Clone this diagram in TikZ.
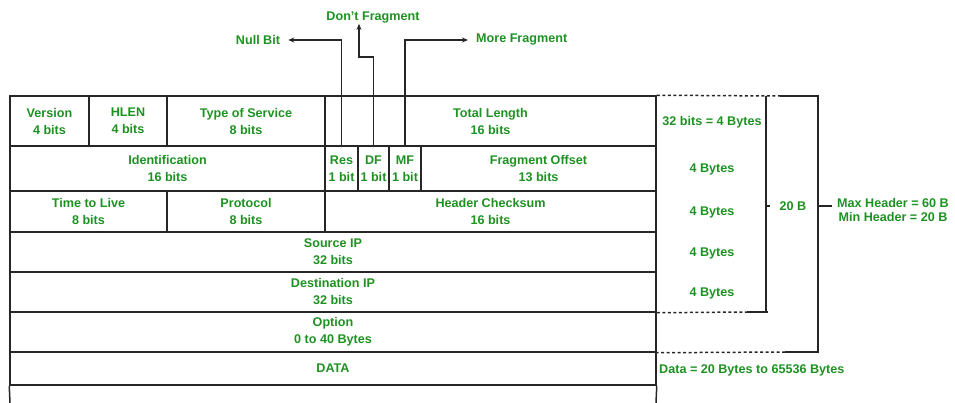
\documentclass[tikz,border=0pt]{standalone}
\usepackage{fontspec}
\setmainfont{Liberation Sans}
\usetikzlibrary{arrows.meta}
\definecolor{lbl}{RGB}{30,145,35}
\begin{document}
\begin{tikzpicture}[x=1pt,y=-1pt,
  every node/.style={font=\fontsize{12.6}{17}\selectfont\bfseries, text=lbl, align=center, inner sep=0pt},
  ln/.style={draw=black!85, line width=1.5pt},
  cell/.style 2 args={ln, rectangle, minimum width=#1, minimum height=#2},
  arr/.style={ln, line width=1.2pt, -{Stealth[length=6pt,width=5pt]}},
  dsh/.style={ln, dash pattern=on 3pt off 2.5pt}
]
\useasboundingbox (0,0) rectangle (955,403);
% row 1
\node[cell={79}{50}] (ver) at (49.5,121) {Version\\4 bits};
\node[cell={78}{50}] (hlen) at (128,121) {HLEN\\4 bits};
\node[cell={158}{50}] (tos) at (246,121) {Type of Service\\8 bits};
\node[cell={331}{50}] (tlen) at (490.5,121) {Total Length\\16 bits};
% row 2
\node[cell={315}{45}] (ident) at (167.5,168.5) {Identification\\16 bits};
\node[cell={33}{45}] (res) at (341.5,168.5) {Res\\1 bit};
\node[cell={31}{45}] (df) at (373.5,168.5) {DF\\1 bit};
\node[cell={32}{45}] (mf) at (405,168.5) {MF\\1 bit};
\node[cell={235}{45}] (foff) at (538.5,168.5) {Fragment Offset\\13 bits};
% row 3
\node[cell={157}{41}] (ttl) at (88.5,211.5) {Time to Live\\8 bits};
\node[cell={158}{41}] (proto) at (246,211.5) {Protocol\\8 bits};
\node[cell={331}{41}] (hcs) at (490.5,211.5) {Header Checksum\\16 bits};
% rows 4-7
\node[cell={646}{40}] (src) at (333,252) {Source IP\\32 bits};
\node[cell={646}{40}] (dst) at (333,292) {Destination IP\\32 bits};
\node[cell={646}{40}] (opt) at (333,332) {Option\\0 to 40 Bytes};
\node[cell={646}{33}] (data) at (333,368.5) {DATA};
\coordinate (bl) at (10,403);
\coordinate (br) at (656,403);
\draw[ln] (data.south west) -- (bl);
\draw[ln] (data.south east) -- (br);

% flag labels
\node (nullbit) at (258,40) {Null Bit};
\node (dontfrag) at (373,18) {Don't Fragment};
\node[anchor=west] (morefrag) at (476,40) {More Fragment};
\coordinate (dfbend) at (359,57);
\draw[arr] (res.north) |- ([xshift=8pt]nullbit.east);
\draw[arr] (df.north) |- (dfbend) -- (dfbend |- dontfrag.south);
\draw[arr] (mf.north) |- ([xshift=-8pt]morefrag.west);

% right side labels
\node (r1) at (712,122) {32 bits = 4 Bytes};
\node (r2) at (712,169) {4 Bytes};
\node (r3) at (712,212) {4 Bytes};
\node (r4) at (712,253) {4 Bytes};
\node (r5) at (712,293) {4 Bytes};
\node (twenty) at (793,206) {20 B};
\node[font=\fontsize{12.6}{14}\selectfont\bfseries] (maxmin) at (893,210) {Max Header = 60 B\\Min Header = 20 B};
\node[anchor=west] (datalbl) at (659,370) {Data = 20 Bytes to 65536 Bytes};

% brackets
\coordinate (a1) at (780,96);
\coordinate (a2) at (818,96);
\coordinate (a3) at (818,352);
\coordinate (a4) at (785,352);
\coordinate (b1) at (766,96);
\coordinate (b2) at (766,312);
\coordinate (b3) at (747,312);
\coordinate (b4) at (768,312);
\draw[dsh] (tlen.north east) -- (a1);
\draw[ln] (a1) -- (a2) -- (a3) -- (a4);
\draw[dsh] (a4) -- (opt.south east);
\draw[ln] (b1) -- (b2);
\draw[dsh] (dst.south east) -- (b3);
\draw[ln] (b3) -- (b4);
\draw[ln] (b1 |- twenty.west) -- ++(4,0);
\draw[ln] (a2 |- twenty.west) -- ([xshift=-5pt]maxmin.west |- twenty.west);
\end{tikzpicture}
\end{document}
